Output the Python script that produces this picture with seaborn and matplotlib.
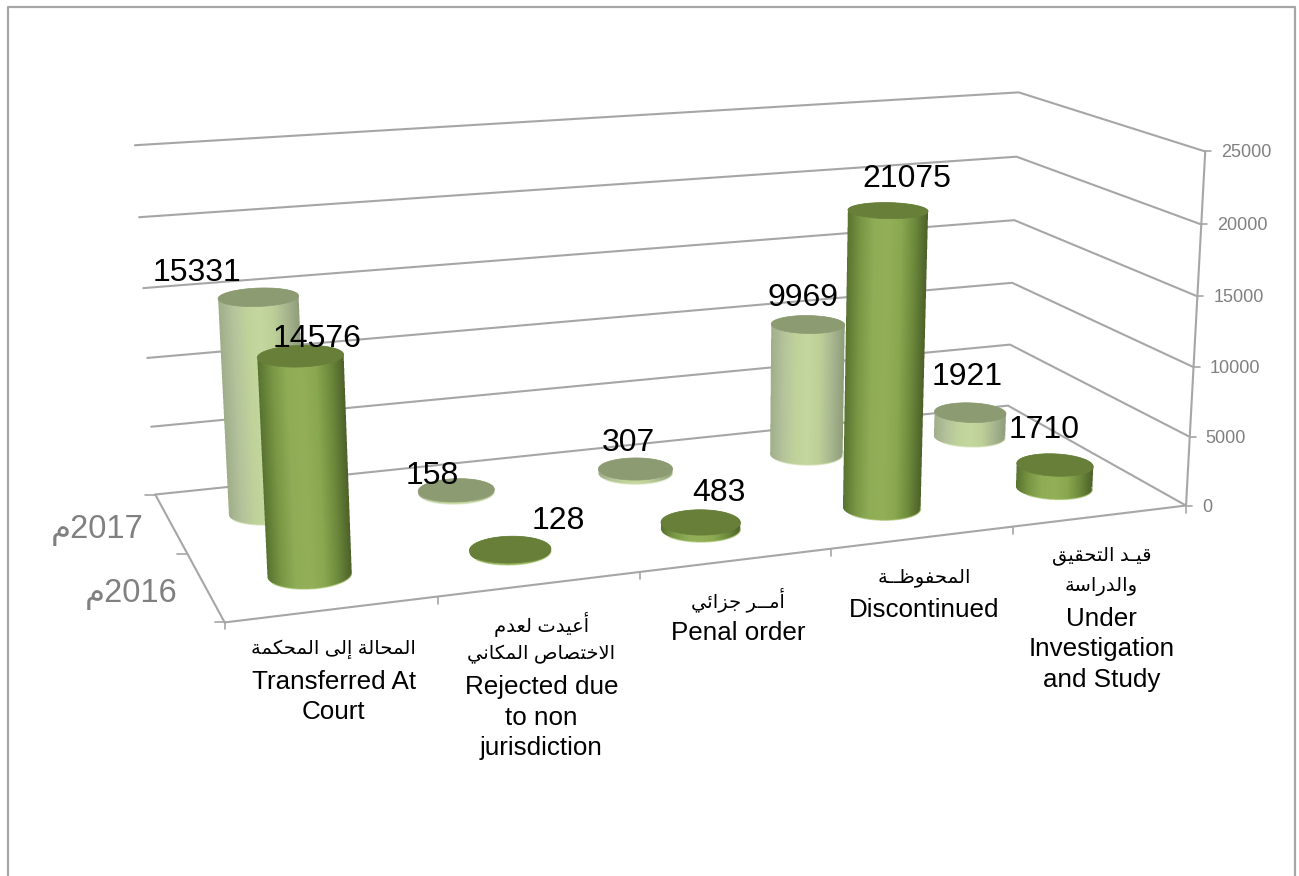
import re

import numpy as np
import pandas as pd
import seaborn as sns
import matplotlib
matplotlib.use("Agg")
import matplotlib.pyplot as plt
from matplotlib.path import Path

years = ["2016م", "2017م"]
values_2016 = [14576, 128, 483, 21075, 1710]
values_2017 = [15331, 158, 307, 9969, 1921]
y_ticks = [0, 5000, 10000, 15000, 20000, 25000]
category_lines = [
    ["المحالة إلى المحكمة", "Transferred At", "Court"],
    ["أعيدت لعدم", "الاختصاص المكاني", "Rejected due", "to non", "jurisdiction"],
    ["أمــر جزائي", "Penal order"],
    ["المحفوظــة", "Discontinued"],
    ["قيـد التحقيق", "والدراسة", "Under", "Investigation", "and Study"],
]

# label offsets from the cylinder top, in pixels (right, down)
offsets_2016 = [(16, -17), (48, -28), (18, -29), (19, -31), (-11, -35)]
offsets_2017 = [(-61, -24), (-24, -14), (-7, -26), (-5, -26), (-3, -36)]

# camera calibration: (category pos, depth, height fraction) -> pixel
calib = [
    (0, 1, 0, 155.5, 494), (0, 1, 0.2, 151, 427), (0, 1, 0.4, 147, 358), (0, 1, 1, 135, 145),
    (5, 1, 0, 1008, 405), (5, 1, 0.2, 1010, 345), (5, 1, 1, 1019, 93),
    (5, 0, 0, 1186, 505), (5, 0, 0.2, 1190, 436), (5, 0, 1, 1205, 151),
    (0, 0, 0, 225, 622), (1, 0, 0, 438, 596), (2, 0, 0, 640, 573),
    (3, 0, 0, 831, 550), (4, 0, 0, 1013, 527),
]

GRID = "#a6a6a6"
TICK_TEXT = "#808080"
N_CAT = len(category_lines)
Y_MAX = y_ticks[-1]
RADIUS_U, RADIUS_V = 0.2, 0.1

df = pd.DataFrame({
    "cat": list(range(N_CAT)) * 2,
    "depth": [0.25] * N_CAT + [0.75] * N_CAT,
    "value": values_2016 + values_2017,
    "offset": offsets_2016 + offsets_2017,
})

forms = {
    "ا": "ﺍﺎ", "أ": "ﺃﺄ", "إ": "ﺇﺈ", "ة": "ﺓﺔ", "د": "ﺩﺪ", "ر": "ﺭﺮ", "ز": "ﺯﺰ", "و": "ﻭﻮ", "ى": "ﻯﻰ",
    "ت": "ﺕﺖﺗﺘ", "ج": "ﺝﺞﺟﺠ", "ح": "ﺡﺢﺣﺤ", "خ": "ﺥﺦﺧﺨ", "س": "ﺱﺲﺳﺴ", "ص": "ﺹﺺﺻﺼ", "ظ": "ﻅﻆﻇﻈ",
    "ع": "ﻉﻊﻋﻌ", "ف": "ﻑﻒﻓﻔ", "ق": "ﻕﻖﻗﻘ", "ك": "ﻙﻚﻛﻜ", "ل": "ﻝﻞﻟﻠ", "م": "ﻡﻢﻣﻤ", "ن": "ﻥﻦﻧﻨ",
    "ي": "ﻱﻲﻳﻴ", "ئ": "ﺉﺊﺋﺌ",
}
lam_alef = {"ا": "ﻻﻼ", "أ": "ﻷﻸ", "إ": "ﻹﻺ"}


def shape(text):
    # matplotlib has no bidi or joining, so pick the glyph forms by hand
    def joins_after(c):
        return c == "ـ" or len(forms.get(c, "")) == 4

    out = []
    i = 0
    while i < len(text):
        c = text[i]
        prev = text[i - 1] if i else " "
        nxt = text[i + 1] if i + 1 < len(text) else " "
        if c == "ل" and nxt in lam_alef:
            out.append(lam_alef[nxt][1 if joins_after(prev) else 0])
            i += 2
            continue
        if c in forms:
            before = joins_after(prev)
            after = joins_after(c) and (nxt in forms or nxt == "ـ")
            idx = {(False, False): 0, (True, False): 1, (False, True): 2, (True, True): 3}[(before, after)]
            out.append(forms[c][idx])
        else:
            out.append(c)
        i += 1
    visual = "".join(out)[::-1]
    return re.sub(r"\d+", lambda m: m.group()[::-1], visual)


def is_arabic(text):
    return any("\u0600" <= c <= "\u06ff" for c in text)


def fit_camera(points):
    rows = []
    for u, v, h, x, y in points:
        rows.append([u, v, h, 1, 0, 0, 0, 0, -x * u, -x * v, -x * h, -x])
        rows.append([0, 0, 0, 0, u, v, h, 1, -y * u, -y * v, -y * h, -y])
    return np.linalg.svd(np.array(rows, dtype=float))[2][-1].reshape(3, 4)


camera = fit_camera(calib)


def project(u, v, z):
    u, v, z = np.broadcast_arrays(np.asarray(u, float), np.asarray(v, float), np.asarray(z, float) / Y_MAX)
    p = camera @ np.stack([u, v, z, np.ones_like(u)])
    return p[0] / p[2], p[1] / p[2]


def convex_hull(pts):
    pts = sorted(set(map(tuple, pts)))

    def half(seq):
        out = []
        for p in seq:
            while len(out) > 1:
                a, b = np.subtract(out[-1], out[-2]), np.subtract(p, out[-1])
                if a[0] * b[1] - a[1] * b[0] > 0:
                    break
                out.pop()
            out.append(p)
        return out[:-1]

    return np.array(half(pts) + half(pts[::-1]))


sns.set_theme(style="white")
plt.rcParams["font.family"] = ["Liberation Sans", "DejaVu Sans"]

side_2016 = np.array(sns.blend_palette(["#587430", "#7a9745", "#8fad56", "#93b058", "#8aa850", "#6d8a3c", "#4b6028"], 256))
side_2017 = np.array(sns.blend_palette(["#a0ae8a", "#b4c39c", "#bfd29a", "#c4d79f", "#bdd098", "#a8b78f", "#8e9c7a"], 256))
looks = {0.25: (side_2016, "#687f3a", "#a3c06a"), 0.75: (side_2017, "#8d9b72", "#d5e4b8")}

fig = plt.figure(figsize=(12.99, 8.76), dpi=100)
ax = fig.add_axes([0, 0, 1, 1])
ax.set_xlim(0, 1299)
ax.set_ylim(876, 0)
ax.axis("off")

# outer chart frame, runs off the bottom of the image
ax.plot([8, 8, 1295.5, 1295.5], [890, 6.5, 6.5, 890], color="#a6a6a6", lw=1.6, zorder=0)


def line3d(us, vs, zs, **kw):
    x, y = project(us, vs, zs)
    ax.plot(x, y, color=GRID, lw=1.5, solid_capstyle="round", zorder=1, **kw)


def tick(u, v, z, dx, dy):
    x, y = project(u, v, z)
    ax.plot([x, x + dx], [y, y + dy], color=GRID, lw=1.2, zorder=1)


for t in y_ticks:
    line3d([0, N_CAT, N_CAT], [1, 1, 0], [t, t, t])
    tick(N_CAT, 0, t, 6, 0)
    ax.annotate(str(t), xy=project(N_CAT, 0, t), xytext=(16, -1.5), textcoords="offset pixels",
                ha="left", va="center", fontsize=13, color=TICK_TEXT)
line3d([N_CAT, N_CAT], [0, 0], [0, Y_MAX])
line3d([0, N_CAT], [0, 0], [0, 0])
line3d([0, 0], [0, 1], [0, 0])
for i in range(N_CAT + 1):
    tick(i, 0, 0, 0, 7)
for v in [0, 0.5, 1]:
    tick(0, v, 0, -10, 0)


def draw_cylinder(u0, v0, value):
    side, top, rim = looks[v0]
    t = np.linspace(0, 2 * np.pi, 181)
    us = u0 + RADIUS_U * np.cos(t)
    vs = v0 + RADIUS_V * np.sin(t)
    bx, by = project(us, vs, 0)
    tx, ty = project(us, vs, value)
    hull = Path(convex_hull(np.column_stack([np.r_[bx, tx], np.r_[by, ty]])))

    # side gradient as a small image, masked to the outline with 4x sampling
    x0, x1 = int(min(bx.min(), tx.min())) - 1, int(max(bx.max(), tx.max())) + 2
    y0, y1 = int(min(by.min(), ty.min())) - 1, int(max(by.max(), ty.max())) + 2
    sub = (np.arange(4) + 0.5) / 4
    gx = (np.arange(x0, x1)[:, None] + sub).ravel()
    gy = (np.arange(y0, y1)[:, None] + sub).ravel()
    xx, yy = np.meshgrid(gx, gy)
    inside = hull.contains_points(np.column_stack([xx.ravel(), yy.ravel()])).reshape(xx.shape)
    alpha = inside.reshape(y1 - y0, 4, x1 - x0, 4).mean(axis=(1, 3))

    px, py = np.meshgrid(np.arange(x0, x1) + 0.5, np.arange(y0, y1) + 0.5)
    cx_b, cy_b = bx.mean(), by.mean()
    cx_t, cy_t = tx.mean(), ty.mean()
    w_b, w_t = (bx.max() - bx.min()) / 2, (tx.max() - tx.min()) / 2
    f = np.clip((py - cy_t) / max(cy_b - cy_t, 1), 0, 1)
    shade = (px - (cx_t + f * (cx_b - cx_t))) / (2 * (w_t + f * (w_b - w_t))) + 0.5
    rgb = side[np.clip((shade * 255).astype(int), 0, 255)]
    ax.imshow(np.dstack([rgb, alpha]), extent=(x0, x1, y1, y0), origin="upper",
              interpolation="nearest", aspect="auto", zorder=3)

    # light rim along the visible lower edge only
    front = (t >= np.pi + 0.3) & (t <= 2 * np.pi - 0.3)
    ax.plot(bx[front], by[front], color=rim, lw=1.0, alpha=0.6, zorder=3)
    ax.fill(tx, ty, color=top, lw=0.5, zorder=3)


for _, row in df.sort_values("depth", ascending=False).iterrows():
    draw_cylinder(row["cat"] + 0.5, row["depth"], row["value"])
ax.set_xlim(0, 1299)
ax.set_ylim(876, 0)

for _, row in df.iterrows():
    dx, dy = row["offset"]
    ax.annotate(str(row["value"]), xy=project(row["cat"] + 0.5, row["depth"], row["value"]),
                xytext=(dx, -dy), textcoords="offset pixels", ha="center", va="center",
                fontsize=23, color="black", zorder=5)

# series names sit left of the floor's left edge
for year, v0 in zip(years, [0.25, 0.75]):
    ax.annotate(shape(year), xy=project(0, v0, 0), xytext=(-74, -7.5), textcoords="offset pixels",
                ha="center", va="center", fontsize=23.5, color=TICK_TEXT, zorder=5)

for i, lines in enumerate(category_lines):
    xy = project(i + 0.5, 0, 0)
    for k, line in enumerate(lines):
        arabic = is_arabic(line)
        drop = 40 + k * 30.5 + (0 if arabic else 2)
        ax.annotate(shape(line) if arabic else line, xy=xy, xytext=(1, -drop),
                    textcoords="offset pixels", ha="center", va="center",
                    fontsize=14 if arabic else 18.7, color="black", zorder=5)

fig.savefig("out.png", dpi=100, facecolor="white")
